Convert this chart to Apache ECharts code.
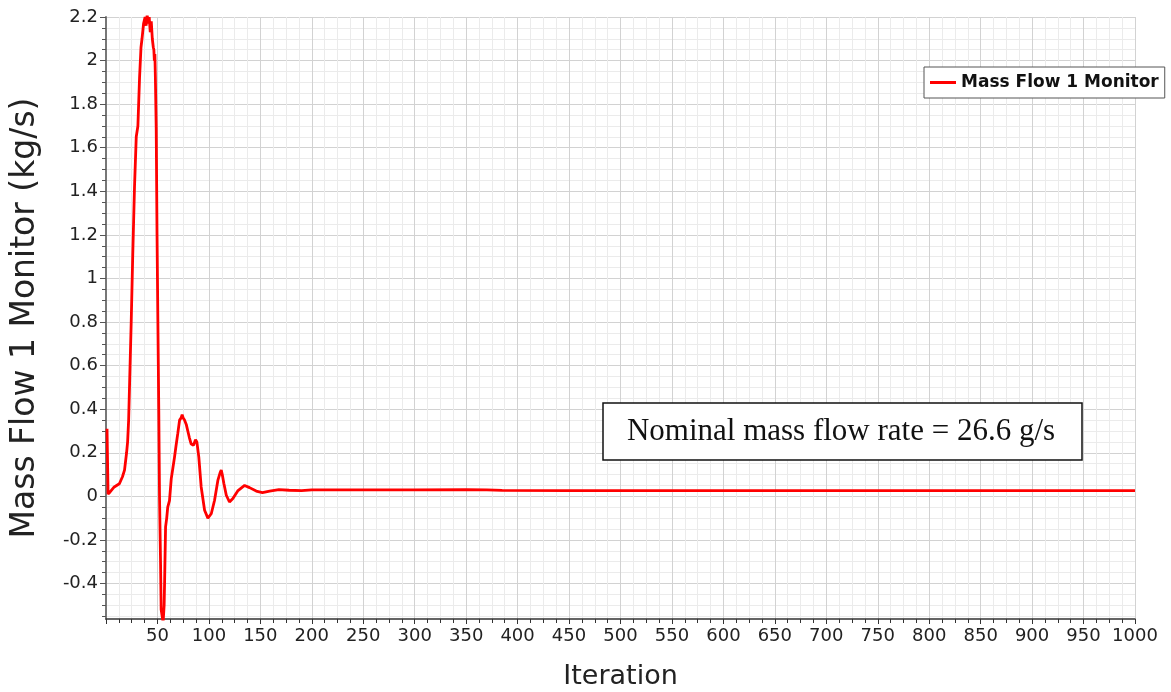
<!DOCTYPE html>
<html>
<head>
<meta charset="utf-8">
<script src="https://cdn.jsdelivr.net/npm/echarts@6/dist/echarts.min.js"></script>
<style>
  html, body { margin: 0; background: #fff; }
  #chart { width: 1171px; height: 692px; }
</style>
</head>
<body>
<div id="chart"></div>
<script>
// values
const iterations = [
  1, 2, 4, 8, 13, 16, 18, 20, 21, 22, 23, 24.5, 26, 27.7, 29.4, 31, 32.6, 34, 35, 36.5,
  38, 39, 40, 41, 42, 43, 44, 45, 46, 46.5, 47, 47.5, 48, 48.8, 49.6, 50.4, 51.3, 52, 53,
  53.6, 54.6, 55.5, 56.5, 57, 57.9, 59, 60, 61.7, 63.4, 65, 66.6, 68, 69.8, 71.5, 73, 74,
  75, 76.3, 78, 79.5, 81, 82.8, 85, 87, 88.3, 90.2, 92.5, 95.8, 99, 102.3, 105.5, 108.7,
  111, 112, 113, 114.5, 116.9, 120, 123.3, 128, 134.7, 139.5, 146, 152, 159, 168, 178,
  190, 200, 250, 300, 350, 370, 385, 450, 600, 800, 1000
];
const massFlow = [
  0.31, 0.01, 0.02, 0.043, 0.058, 0.09, 0.12, 0.2, 0.25, 0.35, 0.53, 0.8, 1.11, 1.42, 1.65, 1.7, 1.92, 2.06, 2.1, 2.17,
  2.2, 2.16, 2.21, 2.17, 2.2, 2.13, 2.18, 2.1, 2.06, 2.05, 2.0, 2.03, 1.92, 1.69, 1.2, 0.81, 0.39, 0.0, -0.3,
  -0.52, -0.55, -0.58, -0.5, -0.38, -0.14, -0.1, -0.05, -0.02, 0.08, 0.13, 0.18, 0.23, 0.29, 0.35, 0.36, 0.375,
  0.36, 0.35, 0.33, 0.3, 0.27, 0.24, 0.235, 0.26, 0.25, 0.18, 0.043, -0.064, -0.1, -0.08, -0.018, 0.073,
  0.11, 0.12, 0.1, 0.06, 0.005, -0.026, -0.01, 0.025, 0.05, 0.04, 0.024, 0.017, 0.024, 0.031, 0.028,
  0.026, 0.03, 0.03, 0.03, 0.031, 0.03, 0.027, 0.0266, 0.0266, 0.0266, 0.0266
];
const yLabelValues = [-0.4, -0.2, 0, 0.2, 0.4, 0.6, 0.8, 1, 1.2, 1.4, 1.6, 1.8, 2, 2.2];
const yMin = -0.563;
const yMax = 2.2;
const seriesName = 'Mass Flow 1 Monitor';
const note = 'Nominal mass flow rate = 26.6 g/s';

// minor y gridlines every 0.05
const yMinorValues = [];
for (let k = -11; k <= 44; k++) yMinorValues.push(Math.round(k * 5) / 100);

const chart = echarts.init(document.getElementById('chart'));
const font = 'DejaVu Sans';

chart.setOption({
  animation: false,
  backgroundColor: '#fff',
  grid: { left: 106, right: 36, top: 17, bottom: 73, containLabel: false, outerBoundsMode: 'none' },
  legend: {
    data: [seriesName],
    left: 924, top: 67,
    backgroundColor: '#fff',
    borderColor: '#555', borderWidth: 1,
    padding: [7, 6, 7, 6],
    icon: 'rect', itemWidth: 26, itemHeight: 3, itemGap: 4,
    textStyle: { fontFamily: font, fontSize: 17, fontWeight: 'bold', color: '#111' }
  },
  xAxis: {
    type: 'value', min: 0, max: 1000, interval: 50,
    name: 'Iteration', nameLocation: 'middle', nameGap: 44,
    nameTextStyle: { fontFamily: font, fontSize: 27, color: '#222' },
    axisLine: { show: true, onZero: false, lineStyle: { color: '#333', width: 1.5 } },
    axisTick: { show: true, length: 5, lineStyle: { color: '#333' } },
    minorTick: { show: true, splitNumber: 4, length: 4, lineStyle: { color: '#333' } },
    axisLabel: {
      fontFamily: font, fontSize: 18, color: '#222', margin: 8,
      formatter: v => (v === 0 ? '' : String(v))
    },
    splitLine: { show: true, lineStyle: { color: '#d2d2d2', width: 1 } },
    minorSplitLine: { show: true, lineStyle: { color: '#ebebeb', width: 1 } }
  },
  yAxis: [
    {
      type: 'value', min: yMin, max: yMax,
      name: 'Mass Flow 1 Monitor (kg/s)', nameLocation: 'middle', nameGap: 64,
      nameTextStyle: { fontFamily: font, fontSize: 33, color: '#222' },
      axisLine: { show: true, onZero: false, lineStyle: { color: '#777', width: 2 } },
      axisTick: { show: true, length: 4, customValues: yMinorValues, lineStyle: { color: '#555' } },
      axisLabel: {
        fontFamily: font, fontSize: 18, color: '#222', margin: 8,
        customValues: yLabelValues
      },
      splitLine: { show: true, lineStyle: { color: '#ebebeb', width: 1 } }
    },
    {
      type: 'value', min: yMin, max: yMax, position: 'left',
      axisLine: { show: false },
      axisTick: { show: true, length: 6, customValues: yLabelValues, lineStyle: { color: '#555' } },
      axisLabel: { show: false },
      splitLine: { show: true, lineStyle: { color: '#d2d2d2', width: 1 } }
    }
  ],
  series: [{
    name: seriesName,
    type: 'line',
    yAxisIndex: 0,
    showSymbol: false,
    symbol: 'none',
    clip: true,
    z: 5,
    lineStyle: { color: '#ff0000', width: 2.8 },
    itemStyle: { color: '#ff0000' },
    data: iterations.map((x, i) => [x, massFlow[i]])
  }],
  graphic: [
    {
      type: 'rect', z: 100, silent: true,
      shape: { x: 603, y: 403, width: 479, height: 57 },
      style: { fill: '#ffffff', stroke: '#111', lineWidth: 1.5 }
    },
    {
      type: 'text', z: 101, silent: true,
      x: 841, y: 432,
      style: {
        text: note, fontFamily: 'Liberation Serif', fontSize: 31,
        fill: '#111', stroke: null, lineWidth: 0,
        align: 'center', verticalAlign: 'middle'
      }
    }
  ]
});
</script>
</body>
</html>
